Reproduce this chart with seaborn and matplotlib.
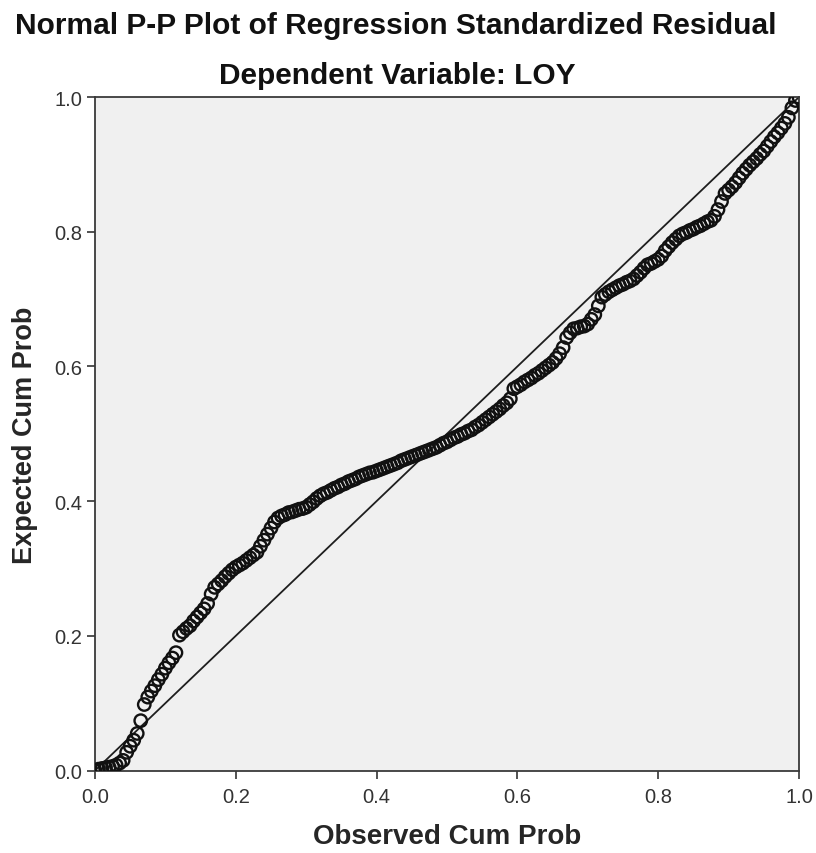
import matplotlib
matplotlib.use("Agg")
import matplotlib.pyplot as plt
import seaborn as sns
import pandas as pd

# observed vs expected cumulative probabilities
observed = [
    0.000, 0.005, 0.010, 0.015, 0.020, 0.025, 0.030, 0.035, 0.040, 0.045,
    0.050, 0.055, 0.060, 0.065, 0.070, 0.075, 0.080, 0.085, 0.090, 0.095,
    0.100, 0.105, 0.110, 0.115, 0.120, 0.125, 0.130, 0.135, 0.140, 0.145,
    0.150, 0.155, 0.160, 0.165, 0.170, 0.175, 0.180, 0.185, 0.190, 0.195,
    0.200, 0.205, 0.210, 0.215, 0.220, 0.225, 0.230, 0.235, 0.240, 0.245,
    0.250, 0.255, 0.260, 0.265, 0.270, 0.275, 0.280, 0.285, 0.290, 0.295,
    0.300, 0.305, 0.310, 0.315, 0.320, 0.325, 0.330, 0.335, 0.340, 0.345,
    0.350, 0.355, 0.360, 0.365, 0.370, 0.375, 0.380, 0.385, 0.390, 0.395,
    0.400, 0.405, 0.410, 0.415, 0.420, 0.425, 0.430, 0.435, 0.440, 0.445,
    0.450, 0.455, 0.460, 0.465, 0.470, 0.475, 0.480, 0.485, 0.490, 0.495,
    0.500, 0.505, 0.510, 0.515, 0.520, 0.525, 0.530, 0.535, 0.540, 0.545,
    0.550, 0.555, 0.560, 0.565, 0.570, 0.575, 0.580, 0.585, 0.590, 0.595,
    0.600, 0.605, 0.610, 0.615, 0.620, 0.625, 0.630, 0.635, 0.640, 0.645,
    0.650, 0.655, 0.660, 0.665, 0.670, 0.675, 0.680, 0.685, 0.690, 0.695,
    0.700, 0.705, 0.710, 0.715, 0.720, 0.725, 0.730, 0.735, 0.740, 0.745,
    0.750, 0.755, 0.760, 0.765, 0.770, 0.775, 0.780, 0.785, 0.790, 0.795,
    0.800, 0.805, 0.810, 0.815, 0.820, 0.825, 0.830, 0.835, 0.840, 0.845,
    0.850, 0.855, 0.860, 0.865, 0.870, 0.875, 0.880, 0.885, 0.890, 0.895,
    0.900, 0.905, 0.910, 0.915, 0.920, 0.925, 0.930, 0.935, 0.940, 0.945,
    0.950, 0.955, 0.960, 0.965, 0.970, 0.975, 0.980, 0.985, 0.990, 0.995,
    1.000,
]
expected = [
    0.000, 0.002, 0.003, 0.004, 0.005, 0.006, 0.008, 0.011, 0.015, 0.027,
    0.036, 0.045, 0.055, 0.074, 0.098, 0.109, 0.118, 0.126, 0.135, 0.143,
    0.152, 0.160, 0.167, 0.175, 0.201, 0.206, 0.211, 0.215, 0.222, 0.228,
    0.234, 0.240, 0.248, 0.262, 0.272, 0.277, 0.282, 0.288, 0.293, 0.298,
    0.302, 0.305, 0.308, 0.312, 0.316, 0.320, 0.324, 0.333, 0.342, 0.351,
    0.360, 0.369, 0.375, 0.378, 0.380, 0.383, 0.384, 0.386, 0.388, 0.389,
    0.391, 0.395, 0.399, 0.404, 0.408, 0.411, 0.413, 0.416, 0.419, 0.421,
    0.424, 0.426, 0.429, 0.431, 0.433, 0.436, 0.438, 0.440, 0.442, 0.443,
    0.445, 0.447, 0.449, 0.451, 0.453, 0.455, 0.457, 0.460, 0.462, 0.464,
    0.466, 0.468, 0.470, 0.472, 0.474, 0.476, 0.478, 0.480, 0.483, 0.486,
    0.488, 0.491, 0.494, 0.496, 0.499, 0.501, 0.504, 0.506, 0.510, 0.513,
    0.517, 0.521, 0.525, 0.529, 0.533, 0.537, 0.542, 0.546, 0.552, 0.567,
    0.570, 0.573, 0.577, 0.580, 0.583, 0.587, 0.590, 0.594, 0.598, 0.602,
    0.606, 0.612, 0.619, 0.628, 0.643, 0.650, 0.656, 0.657, 0.659, 0.660,
    0.663, 0.670, 0.677, 0.690, 0.703, 0.707, 0.711, 0.714, 0.717, 0.720,
    0.722, 0.725, 0.727, 0.730, 0.735, 0.740, 0.746, 0.751, 0.753, 0.756,
    0.759, 0.764, 0.772, 0.778, 0.784, 0.789, 0.794, 0.797, 0.799, 0.802,
    0.804, 0.807, 0.809, 0.812, 0.815, 0.817, 0.823, 0.833, 0.845, 0.857,
    0.862, 0.867, 0.873, 0.880, 0.887, 0.893, 0.899, 0.904, 0.909, 0.915,
    0.920, 0.927, 0.934, 0.941, 0.947, 0.954, 0.961, 0.970, 0.984, 0.995,
    1.000,
]
ref_line = [0.0, 1.0]
tick_values = [0.0, 0.2, 0.4, 0.6, 0.8, 1.0]
tick_labels = ["0.0", "0.2", "0.4", "0.6", "0.8", "1.0"]

df = pd.DataFrame({"observed": observed, "expected": expected})

sns.set_style("ticks")
plt.rcParams["font.family"] = ["Liberation Sans", "DejaVu Sans"]

fig = plt.figure(figsize=(8.16, 8.54), dpi=100)
ax = fig.add_axes([0.1164, 0.0966, 0.8627, 0.7885])
ax.set_facecolor("#f0f0f0")

sns.lineplot(x=ref_line, y=ref_line, ax=ax, color="#1e1e1e", linewidth=1.3)
sns.scatterplot(data=df, x="observed", y="expected", ax=ax, s=80, marker="o",
                fc="none", ec="#111111", linewidth=1.7, zorder=3)

ax.set_xlim(0, 1)
ax.set_ylim(0, 1)
ax.set_xticks(tick_values)
ax.set_xticklabels(tick_labels)
ax.set_yticks(tick_values)
ax.set_yticklabels(tick_labels)
ax.tick_params(axis="both", length=6, width=1.2, color="#333333",
               labelsize=14.5, labelcolor="#333333")
ax.tick_params(axis="x", pad=6)
ax.tick_params(axis="y", pad=3)
for side in ["left", "right", "top", "bottom"]:
    ax.spines[side].set_visible(True)
    ax.spines[side].set_color("#3a3a3a")
    ax.spines[side].set_linewidth(1.3)

ax.set_xlabel("Observed Cum Prob", fontsize=20, fontweight="bold", labelpad=12)
ax.set_ylabel("Expected Cum Prob", fontsize=19.5, fontweight="bold", labelpad=12)

fig.text(0.485, 0.970, "Normal P-P Plot of Regression Standardized Residual",
         ha="center", va="center", fontsize=21.5, fontweight="bold", color="#111111")
fig.text(0.487, 0.911, "Dependent Variable: LOY",
         ha="center", va="center", fontsize=21.5, fontweight="bold", color="#111111")

fig.savefig("out.png", dpi=100)
